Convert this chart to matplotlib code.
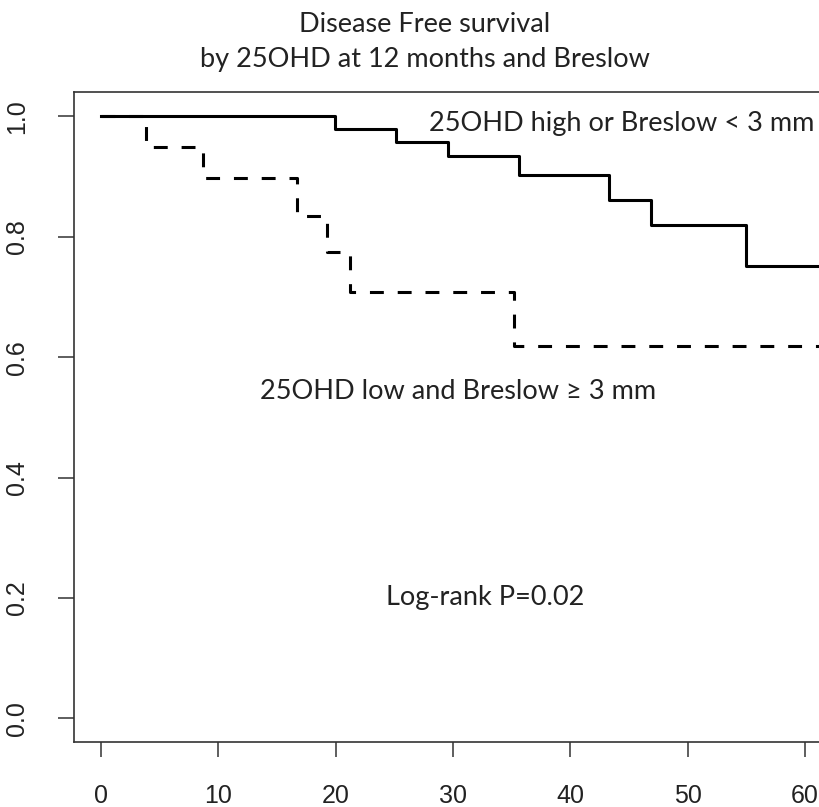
import matplotlib
matplotlib.use("Agg")
import matplotlib.pyplot as plt

# Kaplan-Meier steps (months, survival)
high_t = [0, 19.94, 25.1, 29.55, 35.65, 43.3, 46.85, 55.0, 66]
high_s = [1.0, 0.979, 0.957, 0.935, 0.902, 0.862, 0.819, 0.751, 0.751]
low_t = [0, 3.84, 8.72, 16.73, 19.24, 21.2, 35.2, 66]
low_s = [1.0, 0.950, 0.897, 0.835, 0.774, 0.709, 0.619, 0.619]

xticks = [0, 10, 20, 30, 40, 50, 60]
yticks = [0.0, 0.2, 0.4, 0.6, 0.8, 1.0]

plt.rcParams['lines.scale_dashes'] = False
txtfont = ['Lato', 'DejaVu Sans']
tickfont = ['Liberation Sans', 'DejaVu Sans']

fig = plt.figure(figsize=(8.19, 8.07), dpi=100)
ax = fig.add_axes([0.0904, 0.0802, 0.9785, 0.8053])

ax.step(high_t, high_s, where='post', color='black', lw=2.2)
ax.step(low_t, low_s, where='post', color='black', lw=2.2,
        linestyle=(0, (10, 10)))

ax.set_xlim(-2.3, 66)
ax.set_ylim(-0.04, 1.04)
ax.set_xticks(xticks)
ax.set_yticks(yticks)
ax.set_xticklabels([str(v) for v in xticks], fontfamily=tickfont, fontsize=18, color='#222222')
ax.set_yticklabels(["%.1f" % v for v in yticks], fontfamily=tickfont, fontsize=18,
                   color='#222222', rotation=90, va='center')
ax.tick_params(axis='x', length=11, width=1.1, color='#333333', pad=19)
ax.tick_params(axis='y', length=11.5, width=1.1, color='#333333', pad=21)
for sp in ax.spines.values():
    sp.set_color('#333333')
    sp.set_linewidth(1.2)

ax.text(44.4, 0.989, "25OHD high or Breslow < 3 mm", ha='center', va='center',
        fontfamily=txtfont, fontsize=19.5, color='#222222')
ax.text(30.4, 0.5425, "25OHD low and Breslow \u2265 3 mm", ha='center', va='center',
        fontfamily=txtfont, fontsize=19.5, color='#222222')
ax.text(32.7, 0.2, "Log-rank P=0.02", ha='center', va='center',
        fontfamily=txtfont, fontsize=19.5, color='#222222')

fig.text(425 / 819, 1 - 42 / 807, "Disease Free survival\nby 25OHD at 12 months and Breslow",
         ha='center', va='center', fontfamily=txtfont, fontsize=19.5, color='#222222',
         linespacing=1.53)

fig.savefig("out.png", dpi=100)
